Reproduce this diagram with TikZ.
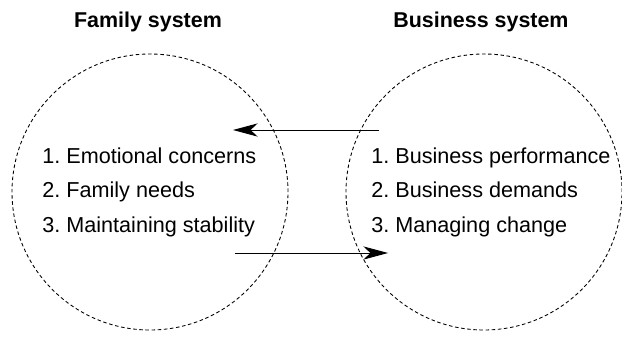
\documentclass[tikz,border=0pt]{standalone}
\usepackage{fontspec}
\setmainfont{Liberation Sans}
\usepackage{tikz}
\usetikzlibrary{arrows.meta}

\begin{document}
\frenchspacing
\begin{tikzpicture}[
    sysring/.style={circle, draw, dashed, dash pattern=on 2pt off 1.5pt, line width=0.5pt, minimum size=5.52cm, inner sep=0pt},
    systitle/.style={font=\fontsize{12.2}{14}\selectfont\bfseries},
    sysitem/.style={anchor=base west, inner sep=0pt, font=\fontsize{12.3}{14}\selectfont},
    flow/.style={-{Stealth[length=14pt, width=7.5pt, inset=4pt]}, line width=0.5pt}
  ]
    \useasboundingbox (0,0) rectangle (12.44,6.8);
    % Two systems
    \node[sysring] (family) at (3.0,2.96) {};
    \node[sysring] (business) at (9.68,2.96) {};
    \node[systitle] (familytitle) at (2.96,6.36) {Family system};
    \node[systitle] (businesstitle) at (9.62,6.36) {Business system};
    % Items
    \node[sysitem] (f1) at (0.84,3.54) {1. Emotional concerns};
    \node[sysitem] (f2) at (0.84,2.86) {2. Family needs};
    \node[sysitem] (f3) at (0.84,2.16) {3. Maintaining stability};
    \node[sysitem] (b1) at (7.42,3.54) {1. Business performance};
    \node[sysitem] (b2) at (7.42,2.86) {2. Business demands};
    \node[sysitem] (b3) at (7.42,2.16) {3. Managing change};
    % Exchange between systems
    \coordinate (topstart) at (7.58,4.2);
    \coordinate (topend) at (4.66,4.2);
    \coordinate (botstart) at (4.7,1.74);
    \coordinate (botend) at (7.76,1.74);
    \draw[flow] (topstart) -- (topend);
    \draw[flow] (botstart) -- (botend);
\end{tikzpicture}
\end{document}
